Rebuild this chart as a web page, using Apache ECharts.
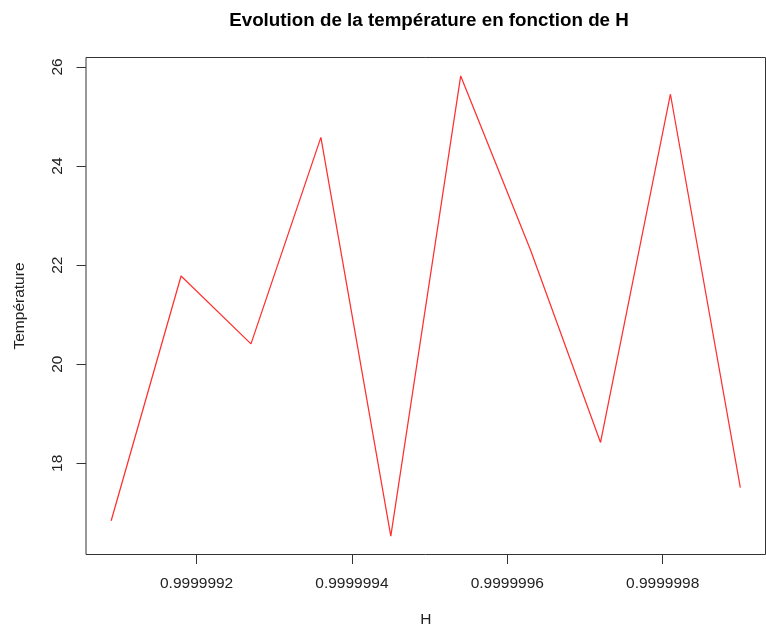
<!DOCTYPE html>
<html>
<head>
<meta charset="utf-8">
<title>Evolution de la température en fonction de H</title>
<script src="https://cdn.jsdelivr.net/npm/echarts@6/dist/echarts.min.js"></script>
<style>
  html, body { margin: 0; padding: 0; background: #fff; }
  #chart { width: 766px; height: 633px; }
</style>
</head>
<body>
<div id="chart"></div>
<script>
// Humidity-like ratio H and the temperature measured at each value
const hValues = [0.99999909, 0.99999918, 0.99999927, 0.99999936, 0.99999945,
                 0.99999954, 0.99999963, 0.99999972, 0.99999981, 0.9999999];
const temperatures = [16.84, 21.78, 20.41, 24.58, 16.53, 25.82, 22.30, 18.42, 25.45, 17.51];

// Tick positions on each axis
const xTicks = [0.9999992, 0.9999994, 0.9999996, 0.9999998];
const yTicks = [18, 20, 22, 24, 26];

const titleText = 'Evolution de la température en fonction de H';
const xName = 'H';
const yName = 'Température';

// Axis ranges padded by 4% on each side, as base R plots do
function paddedRange(values) {
  const lo = Math.min(...values), hi = Math.max(...values);
  const pad = (hi - lo) * 0.04;
  return [lo - pad, hi + pad];
}
const [xMin, xMax] = paddedRange(hValues);
const [yMin, yMax] = paddedRange(temperatures);

const FONT = 'Liberation Sans, Arial, Helvetica, sans-serif';
const INK = '#222';

const chart = echarts.init(document.getElementById('chart'), null, { renderer: 'canvas' });
chart.setOption({
  animation: false,
  backgroundColor: '#ffffff',
  title: {
    text: titleText,
    left: 424, top: 6,
    textAlign: 'center',
    textStyle: { fontFamily: FONT, fontSize: 18.8, fontWeight: 'bold', color: '#000' }
  },
  grid: {
    left: 86, top: 57.5, right: 0.5, bottom: 78.5,
    show: true, borderColor: '#333', borderWidth: 1, backgroundColor: 'transparent'
  },
  xAxis: {
    type: 'value',
    min: xMin, max: xMax,
    name: xName,
    nameLocation: 'middle',
    nameGap: 57,
    nameTextStyle: { fontFamily: FONT, fontSize: 15.5, color: INK },
    axisLine: { show: false },
    splitLine: { show: false },
    axisTick: { show: true, length: 9.5, customValues: xTicks, lineStyle: { color: '#333', width: 1 } },
    axisLabel: {
      customValues: xTicks,
      margin: 21,
      fontFamily: FONT, fontSize: 15.5, color: INK,
      formatter: v => v.toFixed(7)
    }
  },
  yAxis: {
    type: 'value',
    min: yMin, max: yMax,
    name: yName,
    nameLocation: 'middle',
    nameGap: 58,
    nameTextStyle: { fontFamily: FONT, fontSize: 15.5, color: INK },
    axisLine: { show: false },
    splitLine: { show: false },
    axisTick: { show: true, length: 9.5, customValues: yTicks, lineStyle: { color: '#333', width: 1 } },
    axisLabel: {
      customValues: yTicks,
      rotate: 90,
      margin: 20,
      fontFamily: FONT, fontSize: 15.5, color: INK,
      formatter: v => String(v)
    }
  },
  series: [{
    type: 'line',
    data: hValues.map((h, i) => [h, temperatures[i]]),
    showSymbol: false,
    lineStyle: { color: '#ff3030', width: 1.25 },
    silent: true
  }]
});
</script>
</body>
</html>
